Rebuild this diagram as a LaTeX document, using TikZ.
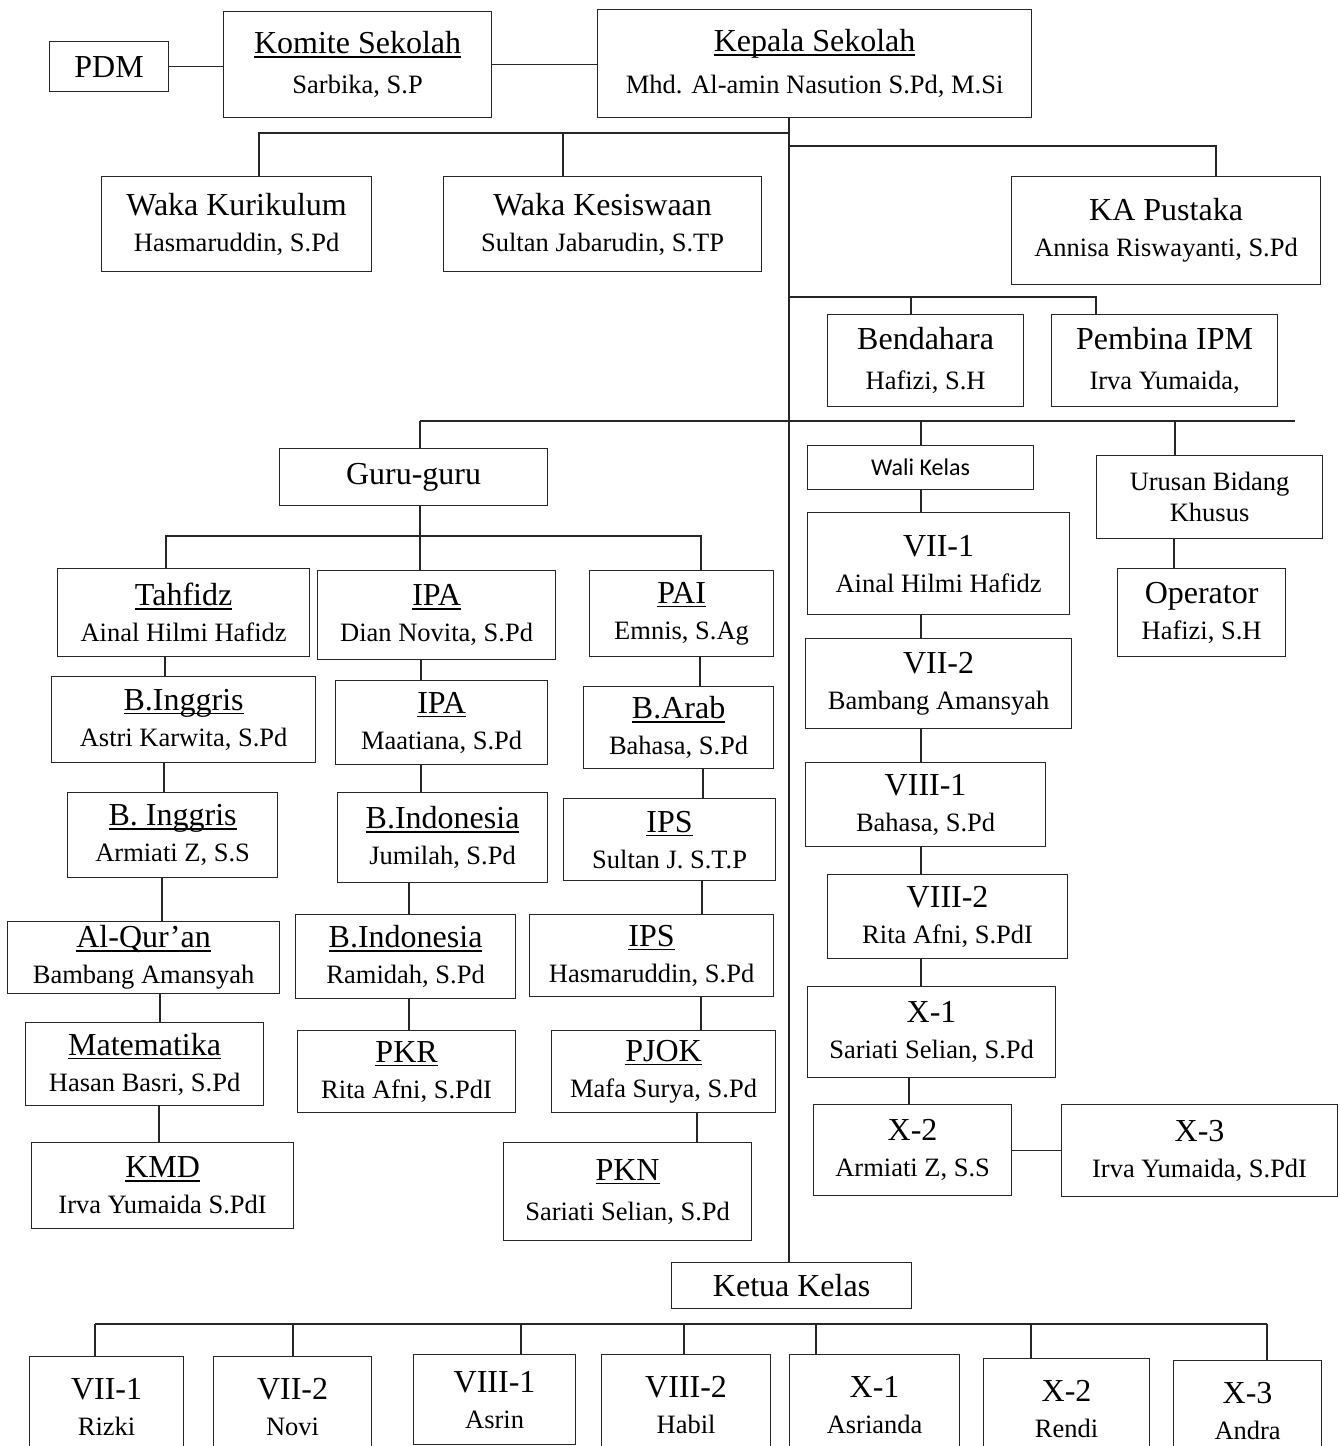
\documentclass[tikz,border=0pt]{standalone}
\usepackage{fontspec}
\setmainfont{Liberation Serif}
\newfontfamily\walifont{Carlito}
\newsavebox{\ttlbox}
\newcommand{\ttlu}[1]{{\fontsize{32}{36}\selectfont\sbox{\ttlbox}{#1}\rlap{\rule[-4pt]{\wd\ttlbox}{1.5pt}}\usebox{\ttlbox}}}
\newcommand{\ttl}[1]{{\fontsize{32}{36}\selectfont #1}}
\tikzset{
  unitbox/.style={draw=black!85, line width=1.2pt, rectangle, anchor=north west, inner sep=0pt, align=center, font=\fontsize{26.5}{36}\selectfont},
  link/.style={draw=black!85, line width=1.2pt}
}

\begin{document}
\begin{tikzpicture}[x=1pt, y=-1pt]
  \useasboundingbox (0,0) rectangle (1339,1446);

  % pimpinan
  \node[unitbox, minimum width=119, minimum height=50] (pdm) at (49,41) {\ttl{PDM}};
  \node[unitbox, minimum width=268, minimum height=106, font=\fontsize{26.5}{40}\selectfont] (komite) at (223,11) {\ttlu{Komite Sekolah}\\Sarbika, S.P};
  \node[unitbox, minimum width=434, minimum height=108, font=\fontsize{26.5}{42}\selectfont] (kepala) at (597,9) {\ttlu{Kepala Sekolah}\\Mhd. Al-amin Nasution S.Pd, M.Si};
  \node[unitbox, minimum width=270, minimum height=95] (wakakur) at (101,176) {\ttl{Waka Kurikulum}\\Hasmaruddin, S.Pd};
  \node[unitbox, minimum width=318, minimum height=95] (wakakes) at (443,176) {\ttl{Waka Kesiswaan}\\Sultan Jabarudin, S.TP};
  \node[unitbox, minimum width=309, minimum height=108] (pustaka) at (1011,176) {\ttl{KA Pustaka}\\Annisa Riswayanti, S.Pd};
  \node[unitbox, minimum width=196, minimum height=92, font=\fontsize{26.5}{40}\selectfont] (bendahara) at (827,314) {\ttl{Bendahara}\\Hafizi, S.H};
  \node[unitbox, minimum width=226, minimum height=92, font=\fontsize{26.5}{40}\selectfont] (pembina) at (1051,314) {\ttl{Pembina IPM}\\Irva Yumaida,};

  % guru dan wali kelas
  \node[unitbox, minimum width=268, minimum height=57] (guru) at (279,448) {\ttl{Guru-guru}};
  \node[unitbox, minimum width=226, minimum height=44, font=\walifont\fontsize{24}{28}\selectfont] (wali) at (807,445) {Wali Kelas};
  \node[unitbox, minimum width=226, minimum height=83, font=\fontsize{26.5}{31}\selectfont] (urusan) at (1096,455) {Urusan Bidang\\Khusus};
  \node[unitbox, minimum width=168, minimum height=88] (operator) at (1117,568) {\ttl{Operator}\\Hafizi, S.H};

  \node[unitbox, minimum width=252, minimum height=88] (tahfidz) at (57,568) {\ttlu{Tahfidz}\\Ainal Hilmi Hafidz};
  \node[unitbox, minimum width=264, minimum height=86] (binggrisa) at (51,676) {\ttlu{B.Inggris}\\Astri Karwita, S.Pd};
  \node[unitbox, minimum width=210, minimum height=85] (binggrisb) at (67,792) {\ttlu{B. Inggris}\\Armiati Z, S.S};
  \node[unitbox, minimum width=272, minimum height=72] (alquran) at (7,921) {\ttlu{Al-Qur’an}\\Bambang Amansyah};
  \node[unitbox, minimum width=238, minimum height=83] (mtk) at (25,1022) {\ttlu{Matematika}\\Hasan Basri, S.Pd};
  \node[unitbox, minimum width=262, minimum height=86] (kmd) at (31,1142) {\ttlu{KMD}\\Irva Yumaida S.PdI};

  \node[unitbox, minimum width=238, minimum height=89] (ipaa) at (317,570) {\ttlu{IPA}\\Dian Novita, S.Pd};
  \node[unitbox, minimum width=212, minimum height=84] (ipab) at (335,680) {\ttlu{IPA}\\Maatiana, S.Pd};
  \node[unitbox, minimum width=210, minimum height=90] (bindoa) at (337,792) {\ttlu{B.Indonesia}\\Jumilah, S.Pd};
  \node[unitbox, minimum width=220, minimum height=84] (bindob) at (295,914) {\ttlu{B.Indonesia}\\Ramidah, S.Pd};
  \node[unitbox, minimum width=218, minimum height=82] (pkr) at (297,1030) {\ttlu{PKR}\\Rita Afni, S.PdI};

  \node[unitbox, minimum width=184, minimum height=86] (pai) at (589,570) {\ttlu{PAI}\\Emnis, S.Ag};
  \node[unitbox, minimum width=190, minimum height=82] (barab) at (583,686) {\ttlu{B.Arab}\\Bahasa, S.Pd};
  \node[unitbox, minimum width=212, minimum height=82] (ipsa) at (563,798) {\ttlu{IPS}\\Sultan J. S.T.P};
  \node[unitbox, minimum width=244, minimum height=82] (ipsb) at (529,914) {\ttlu{IPS}\\Hasmaruddin, S.Pd};
  \node[unitbox, minimum width=224, minimum height=82] (pjok) at (551,1030) {\ttlu{PJOK}\\Mafa Surya, S.Pd};
  \node[unitbox, minimum width=248, minimum height=98, font=\fontsize{26.5}{40}\selectfont] (pkn) at (503,1142) {\ttlu{PKN}\\Sariati Selian, S.Pd};

  \node[unitbox, minimum width=262, minimum height=102] (wvii1) at (807,512) {\ttl{VII-1}\\Ainal Hilmi Hafidz};
  \node[unitbox, minimum width=266, minimum height=90] (wvii2) at (805,638) {\ttl{VII-2}\\Bambang Amansyah};
  \node[unitbox, minimum width=240, minimum height=84] (wviii1) at (805,762) {\ttl{VIII-1}\\Bahasa, S.Pd};
  \node[unitbox, minimum width=240, minimum height=84] (wviii2) at (827,874) {\ttl{VIII-2}\\Rita Afni, S.PdI};
  \node[unitbox, minimum width=248, minimum height=91] (wx1) at (807,986) {\ttl{X-1}\\Sariati Selian, S.Pd};
  \node[unitbox, minimum width=198, minimum height=91] (wx2) at (813,1104) {\ttl{X-2}\\Armiati Z, S.S};
  \node[unitbox, minimum width=276, minimum height=92] (wx3) at (1061,1104) {\ttl{X-3}\\Irva Yumaida, S.PdI};

  % ketua kelas
  \node[unitbox, minimum width=240, minimum height=46] (ketua) at (671,1262) {\ttl{Ketua Kelas}};
  \node[unitbox, minimum width=154, minimum height=100] (kvii1) at (29,1356) {\ttl{VII-1}\\Rizki};
  \node[unitbox, minimum width=158, minimum height=100] (kvii2) at (213,1356) {\ttl{VII-2}\\Novi};
  \node[unitbox, minimum width=162, minimum height=90] (kviii1) at (413,1354) {\ttl{VIII-1}\\Asrin};
  \node[unitbox, minimum width=169, minimum height=100] (kviii2) at (601,1354) {\ttl{VIII-2}\\Habil};
  \node[unitbox, minimum width=170, minimum height=100] (kx1) at (789,1354) {\ttl{X-1}\\Asrianda};
  \node[unitbox, minimum width=166, minimum height=100] (kx2) at (983,1358) {\ttl{X-2}\\Rendi};
  \node[unitbox, minimum width=148, minimum height=100] (kx3) at (1173,1360) {\ttl{X-3}\\Andra};

  % garis
  \coordinate (spine) at (789,0);
  \draw[link] (pdm.east) -- (pdm.east -| komite.west);
  \draw[link] (komite.east) -- (komite.east -| kepala.west);
  \draw[link] (kepala.south -| spine) -- (ketua.north -| spine);
  \draw[link] (wakakur.north -| 259,0) |- (spine |- 0,133);
  \draw[link] (wakakes.north -| 563,0) -- (563,133);
  \draw[link] (spine |- 0,146) -| (pustaka.north -| 1216,0);
  \draw[link] (spine |- 0,297) -| (pembina.north -| 1096,0);
  \draw[link] (bendahara.north -| 911,0) -- (911,297);
  \draw[link] (420,421) -- (1295,421);
  \draw[link] (guru.north -| 420,0) -- (420,421);
  \draw[link] (wali.north -| 921,0) -- (921,421);
  \draw[link] (urusan.north -| 1175,0) -- (1175,421);
  \draw[link] (urusan.south -| 1174,0) -- (operator.north -| 1174,0);

  \draw[link] (guru.south -| 420,0) -- (ipaa.north -| 420,0);
  \draw[link] (tahfidz.north -| 166,0) |- (701,536) -- (pai.north -| 701,0);
  \foreach \a/\b/\x in {tahfidz/binggrisa/165, binggrisa/binggrisb/164, binggrisb/alquran/162,
      alquran/mtk/160, mtk/kmd/159, ipaa/ipab/421, ipab/bindoa/421, bindoa/bindob/409,
      bindob/pkr/409, pai/barab/700, barab/ipsa/703, ipsa/ipsb/702, ipsb/pjok/701,
      pjok/pkn/697, wali/wvii1/921, wvii1/wvii2/921, wvii2/wviii1/921, wviii1/wviii2/921,
      wviii2/wx1/921, wx1/wx2/909}
    \draw[link] (\a.south -| \x,0) -- (\b.north -| \x,0);
  \draw[link] (wx2.east) -- (wx2.east -| wx3.west);

  \draw[link] (95,1324) -- (1267,1324);
  \foreach \n/\x in {kvii1/95, kvii2/293, kviii1/521, kviii2/684, kx1/816, kx2/1031, kx3/1267}
    \draw[link] (\n.north -| \x,0) -- (\x,1324);
\end{tikzpicture}
\end{document}
